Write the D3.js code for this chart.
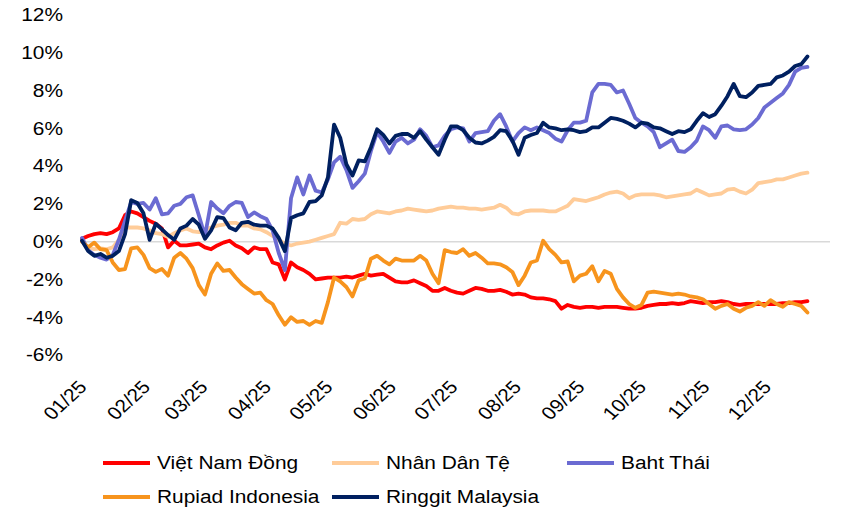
<!DOCTYPE html>
<html>
<head>
<meta charset="utf-8">
<script src="https://cdn.jsdelivr.net/npm/d3@7"></script>
<style>
  body { margin: 0; background: #fff; }
  svg text { font-family: "Liberation Sans", Arial, sans-serif; font-size: 18px; fill: #000; }
</style>
</head>
<body>
<svg id="chart" width="843" height="512"></svg>
<script>
// one reading every 3 days from 01/01/2025
const startDate = new Date(2025, 0, 1);
const stepDays = 3;

const monthLabels = ["01/25", "02/25", "03/25", "04/25", "05/25", "06/25",
                     "07/25", "08/25", "09/25", "10/25", "11/25", "12/25"];
const yTicks = [-6, -4, -2, 0, 2, 4, 6, 8, 10, 12];

const seriesNames = ["Việt Nam Đồng", "Nhân Dân Tệ", "Baht Thái", "Rupiad Indonesia", "Ringgit Malaysia"];
const seriesColors = ["#FF0000", "#FFCC99", "#6B6BD2", "#F7941D", "#002060"];

// % change since start of year
const vnd = [0.15, 0.3, 0.4, 0.45, 0.4, 0.5, 0.7, 1.4, 1.6, 1.5,
  1.3, 1.1, 0.95, 0.7, -0.3, 0.05, -0.2, -0.2, -0.15, -0.1,
  -0.3, -0.4, -0.2, -0.05, 0.05, -0.2, -0.35, -0.6, -0.3, -0.4,
  -0.4, -1.1, -1.2, -2.0, -1.1, -1.35, -1.5, -1.7, -2.0, -1.95,
  -1.9, -1.9, -1.9, -1.85, -1.9, -1.8, -1.7, -1.8, -1.75, -1.7,
  -1.9, -2.1, -2.15, -2.15, -2.05, -2.2, -2.35, -2.6, -2.6, -2.45,
  -2.6, -2.7, -2.75, -2.6, -2.45, -2.5, -2.6, -2.6, -2.55, -2.65,
  -2.8, -2.75, -2.8, -2.95, -3.0, -3.0, -3.05, -3.15, -3.55, -3.35,
  -3.45, -3.5, -3.45, -3.45, -3.5, -3.45, -3.45, -3.45, -3.5, -3.55,
  -3.55, -3.5, -3.4, -3.35, -3.3, -3.3, -3.25, -3.3, -3.25, -3.15,
  -3.2, -3.25, -3.2, -3.2, -3.15, -3.2, -3.3, -3.35, -3.3, -3.3,
  -3.3, -3.3, -3.3, -3.3, -3.25, -3.25, -3.2, -3.2, -3.15];

const cny = [0.05, -0.3, -0.4, -0.35, -0.4, -0.3, 0.1, 0.75, 0.75, 0.75,
  0.7, 0.6, 0.45, 0.4, 0.25, 0.45, 0.6, 0.7, 0.55, 0.5,
  0.65, 0.75, 0.85, 0.9, 1.0, 1.0, 0.85, 0.85, 0.7, 0.65,
  0.5, 0.3, 0.1, -0.1, -0.2, -0.1, -0.05, 0.0, 0.1, 0.2,
  0.3, 0.4, 1.0, 0.95, 1.2, 1.15, 1.2, 1.45, 1.6, 1.55,
  1.5, 1.6, 1.65, 1.75, 1.7, 1.65, 1.6, 1.65, 1.75, 1.8,
  1.85, 1.8, 1.8, 1.75, 1.75, 1.7, 1.75, 1.8, 1.95, 1.8,
  1.5, 1.45, 1.6, 1.65, 1.65, 1.65, 1.6, 1.6, 1.75, 1.9,
  2.25, 2.2, 2.15, 2.25, 2.35, 2.5, 2.6, 2.65, 2.55, 2.3,
  2.45, 2.5, 2.5, 2.5, 2.45, 2.35, 2.4, 2.45, 2.5, 2.55,
  2.75, 2.6, 2.45, 2.5, 2.55, 2.75, 2.8, 2.65, 2.55, 2.75,
  3.1, 3.15, 3.2, 3.3, 3.3, 3.4, 3.5, 3.6, 3.65];

const thb = [0.2, -0.45, -0.7, -0.85, -0.95, -0.7, 0.1, 1.1, 2.1, 2.0,
  2.05, 1.7, 2.3, 1.45, 1.5, 1.9, 2.0, 2.35, 2.45, 1.4,
  0.3, 2.1, 1.75, 1.5, 1.9, 2.1, 2.05, 1.3, 1.55, 1.35,
  1.2, 0.6, -0.6, -1.5, 2.3, 3.4, 2.5, 3.5, 2.7, 2.6,
  3.3, 4.2, 4.5, 3.8, 2.85, 3.2, 3.6, 4.8, 5.8, 5.3,
  4.7, 5.3, 5.5, 5.2, 5.4, 5.95, 5.6, 5.0, 5.1, 5.6,
  5.95, 6.05, 6.0, 5.3, 5.75, 5.8, 5.85, 6.4, 6.75, 6.1,
  5.3, 5.75, 6.05, 5.9, 6.05, 5.9, 5.75, 5.45, 5.3, 5.9,
  6.3, 6.3, 6.4, 7.9, 8.35, 8.35, 8.3, 7.9, 8.0, 7.3,
  6.55, 6.3, 6.1, 5.8, 5.0, 5.2, 5.4, 4.8, 4.75, 5.0,
  5.35, 6.1, 5.9, 5.5, 6.1, 6.15, 5.95, 5.9, 5.95, 6.2,
  6.55, 7.1, 7.35, 7.6, 7.85, 8.3, 9.0, 9.2, 9.25];

const idr = [0.0, -0.3, -0.05, -0.4, -0.45, -1.1, -1.5, -1.45, -0.35, -0.3,
  -0.7, -1.4, -1.6, -1.45, -1.8, -0.85, -0.6, -0.9, -1.4, -2.3,
  -2.8, -1.7, -1.15, -1.55, -1.5, -1.9, -2.25, -2.5, -2.75, -2.7,
  -3.1, -3.3, -3.9, -4.4, -4.0, -4.25, -4.2, -4.4, -4.2, -4.3,
  -3.2, -1.9, -2.1, -2.4, -2.9, -2.05, -1.95, -0.9, -0.75, -1.0,
  -1.2, -0.9, -1.0, -1.0, -1.0, -0.75, -1.0, -1.7, -2.2, -0.45,
  -0.55, -0.6, -0.4, -0.75, -0.6, -0.85, -1.15, -1.15, -1.2, -1.35,
  -1.6, -2.3, -1.8, -1.1, -1.0, 0.05, -0.4, -0.7, -1.1, -1.05,
  -2.1, -1.8, -1.7, -1.3, -2.1, -1.55, -1.7, -2.5, -2.95, -3.3,
  -3.5, -3.35, -2.7, -2.65, -2.7, -2.75, -2.8, -2.75, -2.8, -2.9,
  -2.95, -3.05, -3.3, -3.55, -3.4, -3.3, -3.55, -3.7, -3.5, -3.4,
  -3.2, -3.4, -3.1, -3.3, -3.45, -3.2, -3.3, -3.4, -3.75];

const myr = [0.05, -0.5, -0.75, -0.65, -0.85, -0.75, -0.5, 0.4, 2.2, 2.05,
  1.5, 0.1, 0.95, 0.65, 0.35, 0.1, 0.7, 0.85, 1.2, 0.9,
  0.15, 0.6, 1.3, 1.25, 0.75, 0.6, 1.0, 1.05, 0.9, 0.85,
  0.85, 0.7, 0.2, -0.5, 1.25, 1.4, 1.5, 2.1, 2.15, 2.45,
  3.4, 6.2, 5.5, 4.1, 3.5, 4.3, 4.25, 5.0, 5.95, 5.65,
  5.2, 5.6, 5.7, 5.7, 5.5, 5.85, 5.4, 5.0, 4.6, 5.4,
  6.1, 6.1, 5.9, 5.5, 5.25, 5.2, 5.35, 5.55, 5.9, 5.85,
  5.35, 4.6, 5.5, 5.65, 5.75, 6.3, 6.05, 6.0, 5.9, 5.95,
  5.9, 5.8, 5.85, 6.05, 6.05, 6.3, 6.55, 6.5, 6.4, 6.25,
  6.05, 6.3, 6.25, 6.05, 6.0, 5.85, 5.7, 5.85, 5.8, 5.95,
  6.4, 6.8, 6.6, 6.75, 7.2, 7.7, 8.35, 7.7, 7.65, 7.9,
  8.25, 8.3, 8.35, 8.7, 8.8, 9.0, 9.3, 9.4, 9.8];

const seriesValues = [vnd, cny, thb, idr, myr];

const W = 843, H = 512;
const svg = d3.select("#chart");
const stretch = "scale(1.16,1)";

const dates = vnd.map((v, i) => d3.timeDay.offset(startDate, i * stepDays));

const x = d3.scaleTime()
  .domain([startDate, new Date(2026, 0, 1)])
  .range([82, 830]);
const y = d3.scaleLinear().domain([-6, 12]).range([355, 15]);

// y labels
svg.append("g").selectAll("text").data(yTicks).join("text")
  .attr("transform", d => `translate(63,${y(d)}) ${stretch}`)
  .attr("text-anchor", "end")
  .attr("dy", "0.35em")
  .text(d => `${d}%`);

// x labels, rotated
const months = d3.timeMonth.range(startDate, new Date(2026, 0, 1));
svg.append("g").selectAll("text").data(months).join("text")
  .attr("transform", d => `translate(${x(d) + 6},388) ${stretch} rotate(-47)`)
  .attr("text-anchor", "end")
  .text((d, i) => monthLabels[i]);

// zero line
svg.append("line")
  .attr("x1", x.range()[0]).attr("x2", x.range()[1])
  .attr("y1", y(0)).attr("y2", y(0))
  .attr("stroke", "#D9D9D9").attr("stroke-width", 1.5);

const line = d3.line()
  .x((d, i) => x(dates[i]))
  .y(d => y(d));

svg.append("g").selectAll("path").data(seriesValues).join("path")
  .attr("d", line)
  .attr("fill", "none")
  .attr("stroke", (d, i) => seriesColors[i])
  .attr("stroke-width", 3.8)
  .attr("stroke-linejoin", "round")
  .attr("stroke-linecap", "round");

// legend
const legendPos = [[103, 463], [332, 463], [567, 463], [103, 497], [332, 497]];
const lg = svg.append("g").selectAll("g").data(seriesNames).join("g")
  .attr("transform", (d, i) => `translate(${legendPos[i][0]},${legendPos[i][1]})`);
lg.append("line")
  .attr("x1", 0).attr("x2", 47).attr("y1", 0).attr("y2", 0)
  .attr("stroke", (d, i) => seriesColors[i])
  .attr("stroke-width", 4);
lg.append("text")
  .attr("transform", `translate(54,0) ${stretch}`)
  .attr("dy", "0.35em")
  .text(d => d);
</script>
</body>
</html>
